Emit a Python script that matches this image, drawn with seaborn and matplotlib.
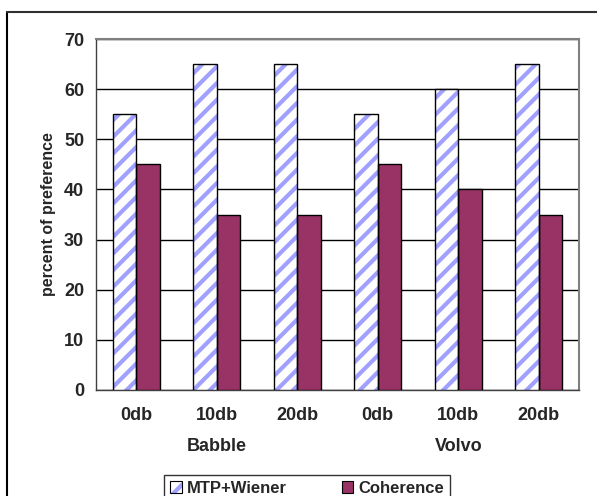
import pandas as pd
import seaborn as sns
import matplotlib.pyplot as plt
from matplotlib.patches import Rectangle
from matplotlib.lines import Line2D

# chart values
noise = ['Babble', 'Babble', 'Babble', 'Volvo', 'Volvo', 'Volvo']
snr = ['0db', '10db', '20db', '0db', '10db', '20db']
mtp_wiener = [55, 65, 65, 55, 60, 65]
coherence = [45, 35, 35, 45, 40, 35]

cond = [f'{n} {s}' for n, s in zip(noise, snr)]
df = pd.DataFrame({'cond': cond, 'MTP+Wiener': mtp_wiener, 'Coherence': coherence})
df_long = df.melt(id_vars='cond', var_name='Method', value_name='pct')

sns.set_style('white')
plt.rcParams['font.family'] = ['Liberation Sans', 'DejaVu Sans']
plt.rcParams['font.weight'] = 'bold'
plt.rcParams['hatch.linewidth'] = 3.0

fig = plt.figure(figsize=(5.97, 4.96), dpi=100)
ax = fig.add_axes([96 / 597, 1 - 390 / 496, (579 - 96) / 597, (390 - 39) / 496])

palette = {'MTP+Wiener': 'white', 'Coherence': '#993366'}
sns.barplot(data=df_long, x='cond', y='pct', hue='Method', palette=palette,
            width=0.59, edgecolor='black', linewidth=1, saturation=1, ax=ax,
            legend=False, zorder=3)

# striped bars: hatch in light blue, then a black outline on top
for bar in ax.containers[0]:
    bar.set_hatch('//')
    bar.set_edgecolor('#A0A0FF')
    bar.set_linewidth(0)
    ax.add_patch(Rectangle(bar.get_xy(), bar.get_width(), bar.get_height(),
                           fill=False, edgecolor='black', linewidth=1, zorder=4))

ax.set_ylim(0, 70)
ax.set_xlim(-0.5, 5.5)
ax.set_yticks(range(0, 71, 10))
ax.yaxis.grid(True, color='black', linewidth=1)
ax.set_axisbelow(True)

for side in ['top', 'right']:
    ax.spines[side].set_color('#808080')
    ax.spines[side].set_linewidth(1.5)
for side in ['left', 'bottom']:
    ax.spines[side].set_color('#404040')
    ax.spines[side].set_linewidth(1)

ax.set_xticks(range(6))
ax.set_xticklabels(snr, fontsize=13, fontweight='bold')
ax.set_xticks([x + 0.5 for x in range(-1, 6)], minor=True)
ax.tick_params(axis='x', which='major', length=0, pad=12)
ax.tick_params(axis='x', which='minor', length=5, direction='out', color='#404040')
ax.tick_params(axis='y', length=5, direction='inout', labelsize=13, color='#404040', pad=6)
for lab in ax.get_yticklabels():
    lab.set_fontweight('bold')

ax.set_xlabel('')
ax.set_ylabel('percent of preference', fontsize=11.5, fontweight='bold', labelpad=6)

# group labels
ax.text(1, -0.16, 'Babble', transform=ax.get_xaxis_transform(), ha='center', va='center',
        fontsize=13, fontweight='bold')
ax.text(4, -0.16, 'Volvo', transform=ax.get_xaxis_transform(), ha='center', va='center',
        fontsize=13, fontweight='bold')

# legend
h_mtp = (Rectangle((0, 0), 1, 1, facecolor='white', edgecolor='#A0A0FF', hatch='//', linewidth=0),
         Rectangle((0, 0), 1, 1, fill=False, edgecolor='black', linewidth=0.8))
h_coh = Rectangle((0, 0), 1, 1, facecolor='#993366', edgecolor='black', linewidth=0.8)
leg = fig.legend([h_mtp, h_coh], ['MTP+Wiener', 'Coherence'], loc='lower center',
                 bbox_to_anchor=(307 / 597, -0.028), ncol=2, frameon=True, fancybox=False,
                 edgecolor='black', fontsize=12, handlelength=0.7, handleheight=0.7,
                 handletextpad=0.3, columnspacing=3.3, borderpad=0.35)
leg.get_frame().set_linewidth(1)
for t in leg.get_texts():
    t.set_fontweight('bold')

# outer chart border (left and top visible)
fig.add_artist(Line2D([7 / 597, 7 / 597], [0, 1 - 12 / 496], color='black', linewidth=1.5))
fig.add_artist(Line2D([7 / 597, 1], [1 - 12 / 496, 1 - 12 / 496], color='#303030', linewidth=1.5))

fig.savefig('out.png', dpi=100)
